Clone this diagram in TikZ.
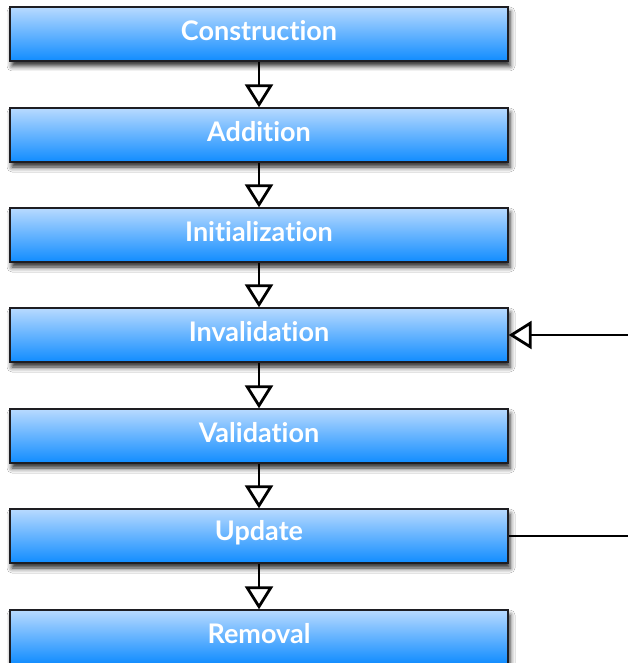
\documentclass[tikz,border=0pt]{standalone}
\usepackage{fontspec}
\setmainfont{Lato}[Ligatures={NoCommon,NoRequired,NoContextual}]
\usetikzlibrary{arrows.meta,shadows.blur}
\definecolor{boxtop}{RGB}{184,218,255}
\definecolor{boxbot}{RGB}{16,140,255}
\definecolor{boxedge}{RGB}{30,30,35}
\tikzset{
  stage/.style={draw=boxedge, line width=1.4pt, top color=boxtop, bottom color=boxbot,
    minimum width=498pt, minimum height=54pt, inner sep=0pt,
    blur shadow={shadow xshift=2pt, shadow yshift=-5pt, shadow blur radius=5pt, shadow opacity=85}},
  caption/.style={font=\fontsize{27}{29}\selectfont\bfseries, text=white, inner sep=0pt},
  flow/.style={line width=2.8pt, -{Triangle[open, length=23pt, width=28pt]}},
  feed/.style={line width=2.8pt}
}
\begin{document}
\begin{tikzpicture}[x=1pt, y=-1pt]
\useasboundingbox[fill=white] (0,0) rectangle (628,663);
\foreach \n/\yy/\t in {c/34/Construction, a/135/Addition, i/235/Initialization,
    inv/335/Invalidation, v/436/Validation, u/536/Update, r/637/Removal}{
  \node[stage] (\n) at (259,\yy) {};
  \node[caption] (\n-t) at ([yshift=3pt]\n.center) {\t};
}
\draw[flow] (c.south) -- (a.north);
\draw[flow] (a.south) -- (i.north);
\draw[flow] (i.south) -- (inv.north);
\draw[flow] (inv.south) -- (v.north);
\draw[flow] (v.south) -- (u.north);
\draw[flow] (u.south) -- (r.north);
\coordinate (inlet) at (630,335);
\coordinate (outlet) at (630,536);
\draw[flow] (inlet) -- (inv.east);
\draw[feed] (u.east) -- (outlet);
\end{tikzpicture}
\end{document}
